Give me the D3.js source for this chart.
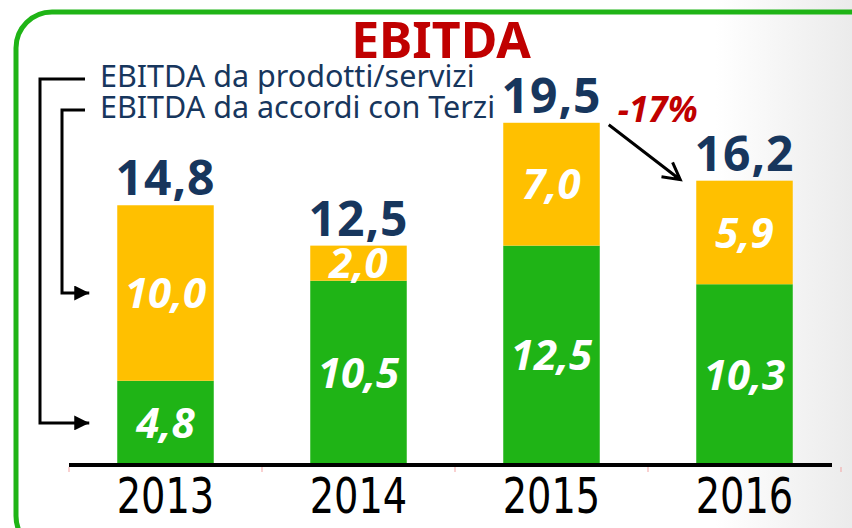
<!DOCTYPE html>
<html>
<head>
<meta charset="utf-8">
<script src="https://cdn.jsdelivr.net/npm/d3@7"></script>
<style>
  html, body { margin: 0; padding: 0; background: #fff; }
  svg { display: block; }
</style>
</head>
<body>
<svg id="viz"></svg>
<script>
const width = 852, height = 528;

// data
const years = ["2013", "2014", "2015", "2016"];
const prodotti = [4.8, 10.5, 12.5, 10.3];   // EBITDA da prodotti/servizi (green, bottom)
const terzi = [10.0, 2.0, 7.0, 5.9];        // EBITDA da accordi con Terzi (orange, top)
const totals = [14.8, 12.5, 19.5, 16.2];
const legendLabels = ["EBITDA da prodotti/servizi", "EBITDA da accordi con Terzi"];
const title = "EBITDA";

const green = "#1FB416", orange = "#FFC000", navy = "#17365D", red = "#C00000";

const fmt = v => d3.format(".1f")(v).replace(".", ",");

const rows = years.map((y, i) => ({year: y, prodotti: prodotti[i], terzi: terzi[i], total: totals[i]}));

const svg = d3.select("#viz")
    .attr("width", width)
    .attr("height", height);

// page background, white fading to light grey on the right
const defs = svg.append("defs");
const grad = defs.append("linearGradient")
    .attr("id", "bg")
    .attr("x1", 0).attr("x2", 1).attr("y1", 0).attr("y2", 0);
grad.append("stop").attr("offset", "0.84").attr("stop-color", "#ffffff");
grad.append("stop").attr("offset", "1").attr("stop-color", "#ebebeb");

defs.append("marker")
    .attr("id", "head")
    .attr("viewBox", "0 0 10 10")
    .attr("refX", 10).attr("refY", 5)
    .attr("markerWidth", 6).attr("markerHeight", 5)
    .attr("markerUnits", "strokeWidth")
    .attr("orient", "auto")
  .append("path")
    .attr("d", "M0,0L10,5L0,10Z")
    .attr("fill", "#000");

svg.append("rect")
    .attr("width", width).attr("height", height)
    .attr("fill", "url(#bg)");

// rounded green frame (runs off the right and bottom edges)
svg.append("rect")
    .attr("x", 16).attr("y", 12)
    .attr("width", 880).attr("height", 540)
    .attr("rx", 36).attr("ry", 36)
    .attr("fill", "none")
    .attr("stroke", green)
    .attr("stroke-width", 5);

// scales
const x = d3.scaleBand()
    .domain(years)
    .range([69, 841])
    .paddingInner(0.5)
    .paddingOuter(0.25);

const y = d3.scaleLinear()
    .domain([0, 20])
    .range([465, 114]);

const stack = d3.stack().keys(["prodotti", "terzi"]);
const series = stack(rows);
const colors = {prodotti: green, terzi: orange};

const bars = svg.append("g");
series.forEach(s => {
  const g = bars.append("g").attr("fill", colors[s.key]);
  g.selectAll("rect")
    .data(s)
    .join("rect")
      .attr("x", d => x(d.data.year))
      .attr("y", d => y(d[1]))
      .attr("width", x.bandwidth())
      .attr("height", d => y(d[0]) - y(d[1]));

  // white value labels inside the segments
  bars.append("g").selectAll("text")
    .data(s)
    .join("text")
      .attr("x", d => x(d.data.year) + x.bandwidth() / 2)
      .attr("y", d => (y(d[0]) + y(d[1])) / 2)
      .attr("dy", "0.36em")
      .attr("text-anchor", "middle")
      .attr("fill", "#fff")
      .style("font-family", "'Noto Sans', 'Open Sans', sans-serif")
      .style("font-weight", "bold")
      .style("font-style", "italic")
      .style("font-size", "42px")
      .text(d => fmt(d[1] - d[0]));
});

// totals above the bars
svg.append("g").selectAll("text")
  .data(rows)
  .join("text")
    .attr("x", d => x(d.year) + x.bandwidth() / 2)
    .attr("y", d => y(d.total) - 10)
    .attr("text-anchor", "middle")
    .attr("fill", navy)
    .style("font-family", "'Noto Sans', sans-serif")
    .style("font-weight", "bold")
    .style("font-size", "48px")
    .style("letter-spacing", "1px")
    .text(d => fmt(d.total));

// x axis: thick black baseline, faint red ticks, narrow year labels
const axis = svg.append("g").attr("transform", `translate(0,${y(0)})`);
axis.append("line")
    .attr("x1", x.range()[0]).attr("x2", x.range()[1] - 9)
    .attr("stroke", "#000")
    .attr("stroke-width", 4);
const bounds = years.map(d => x(d) - x.step() * x.paddingOuter()).concat([x.range()[1]]);
axis.selectAll(".tick")
  .data(bounds)
  .join("line")
    .attr("class", "tick")
    .attr("x1", d => d).attr("x2", d => d)
    .attr("y1", 2).attr("y2", 7)
    .attr("stroke", "#f3a3a3")
    .attr("stroke-width", 1);
axis.selectAll(".year")
  .data(years)
  .join("text")
    .attr("class", "year")
    .attr("x", d => x(d) + x.bandwidth() / 2)
    .attr("y", 48)
    .attr("text-anchor", "middle")
    .attr("textLength", x.bandwidth() + 1)
    .attr("lengthAdjust", "spacingAndGlyphs")
    .attr("fill", "#000")
    .style("font-family", "'Liberation Sans Narrow', 'DejaVu Sans Condensed', sans-serif")
    .style("font-size", "49px")
    .text(d => d);

// title
svg.append("text")
    .attr("x", 441).attr("y", 58)
    .attr("text-anchor", "middle")
    .attr("fill", red)
    .style("font-family", "'Noto Sans', sans-serif")
    .style("font-weight", "bold")
    .style("font-size", "50px")
    .text(title);

// legend text with connectors pointing into the 2013 bar
const legend = svg.append("g");
const first = series.map(s => s[0]);
const legendRows = [
  {label: legendLabels[0], base: 87, vx: 40, target: (y(first[0][0]) + y(first[0][1])) / 2},
  {label: legendLabels[1], base: 118, vx: 62, target: (y(first[1][0]) + y(first[1][1])) / 2}
];
legend.selectAll("text")
  .data(legendRows)
  .join("text")
    .attr("x", 100)
    .attr("y", d => d.base)
    .attr("fill", navy)
    .style("font-family", "'Noto Sans', sans-serif")
    .style("font-size", "30.5px")
    .text(d => d.label);
const tipX = x(years[0]) - 28;
legend.selectAll("path")
  .data(legendRows)
  .join("path")
    .attr("d", d => `M${100 - 15},${d.base - 8}H${d.vx}V${d.target}H${tipX}`)
    .attr("fill", "none")
    .attr("stroke", "#000")
    .attr("stroke-width", 3)
    .attr("marker-end", "url(#head)");

// change 2015 -> 2016
const last = rows[3], prev = rows[2];
const pct = Math.round((last.total - prev.total) / prev.total * 100);
const ax1 = x(prev.year) + x.bandwidth() + 9, ay1 = y(prev.total) + 2;
const ax2 = x(last.year) - 16, ay2 = y(last.total) - 1;
const ang = Math.atan2(ay2 - ay1, ax2 - ax1);
const hl = 19, ha = 0.5;
svg.append("path")
    .attr("d", `M${ax1},${ay1}L${ax2},${ay2}` +
      `M${ax2 - hl * Math.cos(ang - ha)},${ay2 - hl * Math.sin(ang - ha)}L${ax2},${ay2}` +
      `L${ax2 - hl * Math.cos(ang + ha)},${ay2 - hl * Math.sin(ang + ha)}`)
    .attr("fill", "none")
    .attr("stroke", "#000")
    .attr("stroke-width", 3);
svg.append("text")
    .attr("x", ax1 + 9)
    .attr("y", y(prev.total) - 1)
    .attr("fill", red)
    .style("font-family", "'Noto Sans', sans-serif")
    .style("font-weight", "bold")
    .style("font-style", "italic")
    .style("font-size", "35px")
    .text((pct > 0 ? "+" : "") + pct + "%");
</script>
</body>
</html>
